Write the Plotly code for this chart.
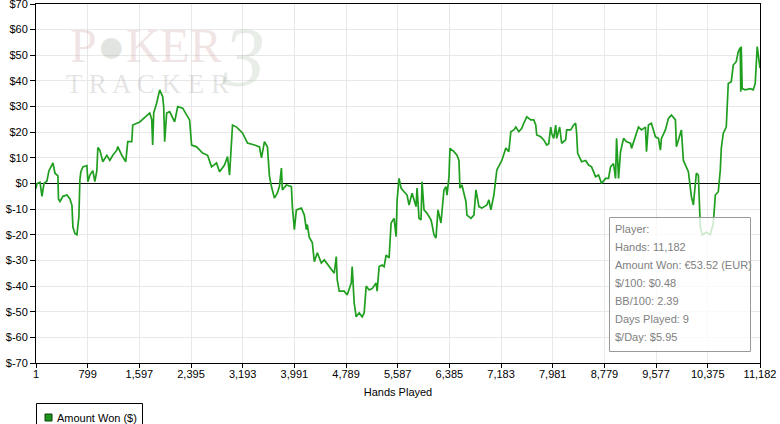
import plotly.graph_objects as go

# ---- data ----
hands = [1,16,63,93,124,170,201,263,294,340,348,371,417,479,525,556,571,602,633,663,679,694,725,787,802,833,879,910,941,956,987,1033,1095,1141,1187,1249,1264,1326,1387,1418,1480,1495,1603,1711,1757,1788,1803,1819,1865,1911,1957,1973,1988,2019,2065,2142,2189,2266,2327,2373,2404,2481,2574,2651,2712,2789,2836,2912,2959,2990,3036,3098,3190,3267,3375,3452,3483,3529,3575,3606,3637,3683,3729,3760,3791,3806,3868,3945,3960,3991,4022,4099,4145,4176,4191,4222,4268,4299,4345,4407,4453,4530,4607,4638,4653,4684,4761,4807,4869,4884,4915,4946,4992,5038,5069,5100,5146,5192,5254,5269,5300,5347,5377,5408,5454,5485,5531,5562,5578,5608,5639,5685,5732,5762,5809,5870,5886,5916,5947,5963,5993,6040,6101,6117,6147,6178,6209,6255,6301,6332,6348,6379,6394,6456,6502,6533,6548,6579,6641,6656,6718,6764,6795,6810,6841,6887,6964,6995,7026,7072,7103,7118,7195,7257,7303,7334,7380,7411,7457,7503,7534,7580,7642,7688,7719,7734,7796,7842,7888,7919,7950,7965,7996,8027,8042,8088,8119,8181,8196,8258,8304,8335,8350,8366,8427,8489,8535,8581,8643,8689,8735,8797,8843,8874,8920,8951,8967,8998,9028,9075,9121,9182,9198,9259,9305,9352,9413,9429,9459,9505,9567,9614,9644,9660,9721,9768,9814,9876,9891,9953,9968,9999,10030,10076,10107,10122,10153,10184,10199,10230,10260,10291,10353,10414,10461,10492,10538,10569,10584,10615,10661,10692,10738,10769,10815,10846,10877,10885,10892,10907,10954,11031,11077,11108,11123,11139,11182]

amount_won = [-2,0,0.5,-5,0,1,5,8,4,3,-6,-7,-5,-4.5,-6,-8.5,-17,-19.5,-20,-13,1.4,4.6,6.5,7,0.7,3.3,5,0.7,5,14,13,8.5,11,9,11,13,14.4,11,8.5,16.3,16.3,22.8,24,26.7,27.5,25,15,27.5,31.4,36.5,33.9,30,16.3,27.5,28,24,30,29.4,27,24.8,15,14.3,11.9,11,6.5,8,4.6,7.2,10.5,3.3,22.8,22,19.7,15.8,15,14.3,10,16.3,14.3,3,-1.2,-5.7,-3.7,-1.2,6,-2.5,-0.6,-1.2,-9,-18,-10.3,-9.6,-12.3,-18,-16,-21,-23,-30.5,-27,-31,-29.8,-32.4,-35,-28.5,-37.6,-42,-42,-43.5,-38.8,-32.4,-46.6,-52,-50.5,-52,-50.5,-40,-41.5,-41,-38.8,-42,-32.4,-31.8,-32.4,-27.9,-29,-15.4,-13.6,-20.7,-6.4,2,-1.8,-3.2,-4.5,-8.4,-3.8,-9,-1.8,-13.6,-14.2,0.7,-10.3,-11.6,-14.2,-16,-20,-21.3,-10.3,-15.4,-2.5,-1.2,-4.5,2.6,13.7,12.4,11,9,-1.8,-0.6,-7.1,-12.3,-13.6,-12.3,-2.5,-4.5,-9,-9.6,-8.4,-6.4,-10.3,-4.5,2.6,5.3,9,13.8,12.4,20.2,20.9,22,20.2,21.5,23.5,26,24.8,24.8,22.8,18.9,18.2,17,15,15.5,22,19.6,17.6,22.8,17.6,22,15.7,17,20.9,20.9,22.8,23.5,19.6,11.8,8.5,9,7.2,6.5,2.6,3.3,0,2,2,6.5,7.8,2,17.6,2,12.4,17.6,16.3,15.7,13.7,18.9,22,20.9,22,12.4,22.8,23.5,18.2,17.6,13,17.6,20.9,25.4,26.7,24.8,14.3,19.6,20.9,9,7.2,4.6,-1.9,-5,-8.4,0.7,4,3.3,-17,-20,-19,-20,-15.5,-4.5,-3.2,5.3,13.7,19.6,22,39,39.7,46.2,47.5,51.4,53,35.8,53.4,37,36.5,37,36.5,39,44.3,53.4,45]

assert len(hands) == len(amount_won), (len(hands), len(amount_won))

x_ticks = [1, 799, 1597, 2395, 3193, 3991, 4789, 5587, 6385, 7183, 7981, 8779, 9577, 10375, 11182]
y_ticks = [70, 60, 50, 40, 30, 20, 10, 0, -10, -20, -30, -40, -50, -60, -70]
y_tick_labels = ["$70", "$60", "$50", "$40", "$30", "$20", "$10", "$0", "$-10", "$-20", "$-30", "$-40", "$-50", "$-60", "$-70"]

series_name = "Amount Won ($)"
info_lines = ["Player:", "Hands: 11,182", "Amount Won: \u20ac53.52 (EUR)", "$/100: $0.48",
              "BB/100: 2.39", "Days Played: 9", "$/Day: $5.95"]

# ---- layout geometry (pixels) ----
W, H = 780, 424
L, R, T, B = 36, 760, 4, 363

def px(xp):
    return (xp - L) / (R - L)

def py(yp):
    return (B - yp) / (B - T)

FONT = "Liberation Sans, Arial, sans-serif"
GREEN = "#1f9e1f"

fig = go.Figure()
fig.add_trace(go.Scatter(
    x=hands, y=amount_won, mode="lines", name=series_name,
    line=dict(color=GREEN, width=1.7),
    showlegend=False, hoverinfo="skip"))

fig.update_layout(
    width=W, height=H,
    margin=dict(l=L, r=W - R, t=T, b=H - B, autoexpand=False),
    paper_bgcolor="white", plot_bgcolor="white",
    font=dict(family=FONT, size=11, color="black"),
    showlegend=False,
    xaxis=dict(range=[1, 11182], tickvals=x_ticks, tickformat=",d", automargin=False,
               ticklabeloverflow="allow", ticklabelstandoff=-3,
               showgrid=True, gridcolor="#e8e8e8", gridwidth=1,
               showline=True, linecolor="black", linewidth=1, mirror=True,
               ticks="outside", ticklen=4, tickcolor="black",
               zeroline=False,
               title=dict(text="Hands Played", font=dict(size=11), standoff=9)),
    yaxis=dict(range=[-70, 70], tickvals=y_ticks, ticktext=y_tick_labels, automargin=False,
               ticklabeloverflow="allow",
               showgrid=True, gridcolor="#e8e8e8", gridwidth=1,
               showline=True, linecolor="black", linewidth=1, mirror=True,
               ticks="outside", ticklen=5, tickcolor="black",
               zeroline=True, zerolinecolor="black", zerolinewidth=1),
)

# watermark logo
fig.add_annotation(xref="paper", yref="paper", x=px(146), y=py(45), showarrow=False,
                   xanchor="center", yanchor="middle",
                   text="<span style='color:rgba(205,160,160,0.28)'>P</span>"
                        "<span style='color:rgba(150,160,150,0.30)'>\u25cf</span>"
                        "<span style='color:rgba(205,160,160,0.28)'>KER</span>",
                   font=dict(family="Liberation Serif, serif", size=48))
fig.add_annotation(xref="paper", yref="paper", x=px(147), y=py(84), showarrow=False,
                   xanchor="center", yanchor="middle",
                   text="T R A C K E R",
                   font=dict(family="Liberation Serif, serif", size=27, color="rgba(150,150,150,0.25)"))
fig.add_annotation(xref="paper", yref="paper", x=px(243), y=py(58), showarrow=False,
                   xanchor="center", yanchor="middle",
                   text="<i>3</i>",
                   font=dict(family="Liberation Serif, serif", size=84, color="rgba(150,175,150,0.22)"))

# info box (semi-transparent)
fig.add_shape(type="rect", xref="paper", yref="paper",
              x0=px(609.5), x1=px(750.5), y0=py(351.5), y1=py(217.5),
              line=dict(color="#999999", width=1), fillcolor="rgba(255,255,255,0.78)", layer="above")
line_y = [229, 247, 265, 283, 301, 319, 337]
for txt, yy in zip(info_lines, line_y):
    fig.add_annotation(xref="paper", yref="paper", x=px(613), y=py(yy),
                       xanchor="left", yanchor="middle", showarrow=False,
                       text=txt.replace("$", "&#36;"),
                       font=dict(size=11, color="#808080", family=FONT))

# legend box (drawn below the plot, as in the reference)
fig.add_shape(type="rect", xref="paper", yref="paper",
              x0=px(36.5), x1=px(142.5), y0=py(432), y1=py(403.5),
              line=dict(color="black", width=1), fillcolor="white")
fig.add_shape(type="rect", xref="paper", yref="paper",
              x0=px(45), x1=px(52), y0=py(421), y1=py(414),
              line=dict(color="#0b3d0b", width=1), fillcolor="#1a961a")
fig.add_annotation(xref="paper", yref="paper", x=px(55), y=py(417.5),
                   xanchor="left", yanchor="middle", showarrow=False,
                   text=series_name.replace("$", "&#36;"),
                   font=dict(size=11, color="black", family=FONT))

# remove the browser's default 8px page margin so the figure sits at (0, 0)
fig.write_html("out.html", config={"displayModeBar": False},
               post_script="document.body.style.margin='0';document.body.style.overflow='hidden';")
